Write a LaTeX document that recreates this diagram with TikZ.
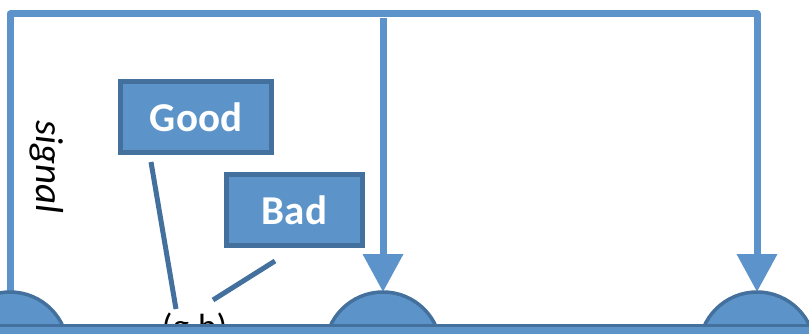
\documentclass[tikz,border=0pt]{standalone}
\usepackage{fontspec}
\setmainfont{Carlito}
\usetikzlibrary{arrows.meta}
\definecolor{wire}{HTML}{5B93CA}
\definecolor{shapefill}{HTML}{5C94CA}
\definecolor{edge}{HTML}{44709E}
\begin{document}
\begin{tikzpicture}[x=1pt,y=-1pt,
  wire/.style={draw=wire, line width=7pt, line join=round},
  feed/.style={wire, -{Triangle[length=38pt,width=39pt]}},
  labelbox/.style={draw=edge, fill=shapefill, line width=5pt, text=white,
    font=\fontsize{41}{41}\selectfont\bfseries, minimum height=71pt, inner sep=0pt},
  link/.style={draw=edge, line width=5pt},
  dome/.style={draw=edge, fill=shapefill, line width=3.5pt},
  busbar/.style={draw=edge, fill=shapefill, line width=3.5pt}]
\useasboundingbox (0,0) rectangle (809,334);

% contact points on top of the domes
\coordinate (dL) at (10,292);
\coordinate (dM) at (383,292);
\coordinate (dR) at (757,292);
\coordinate (tap) at (383,18);

% feedback wiring
\draw[feed] (dL) -- (10,14) -- (757,14) -- (dR);
\draw[feed] (tap) -- (dM);

% signal label
\node[rotate=-90, font=\fontsize{39}{39}\selectfont\itshape] (sig) at (47,167) {signal};

% state boxes
\node[labelbox, minimum width=151pt] (good) at (196,117) {Good};
\node[labelbox, minimum width=136pt] (bad) at (294.5,210) {Bad};

% output pair label
\node[anchor=base, font=\fontsize{35}{35}\selectfont, inner sep=0pt] (gb) at (194.5,338) {(g,b)};

% pointers from the boxes to the pair
\coordinate (g1) at (151,162);
\coordinate (g2) at (176,309);
\coordinate (b1) at (275,261);
\coordinate (b2) at (213,300);
\draw[link] (g1) -- (g2);
\draw[link] (b1) -- (b2);

% domes
\foreach \cx in {10,383,757}{
  \draw[dome] (\cx,350) circle (58);
}

% base bar
\draw[busbar] (-20,325.5) rectangle (830,370);
\end{tikzpicture}
\end{document}
